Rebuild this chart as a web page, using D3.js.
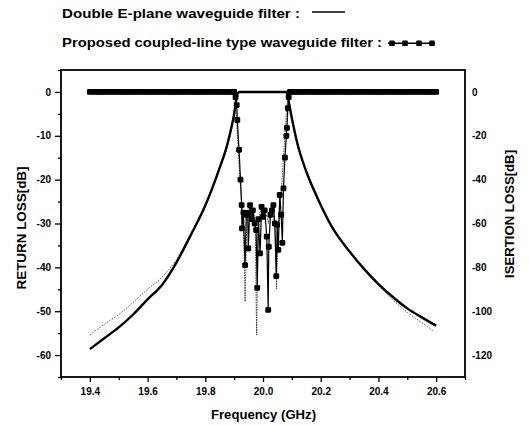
<!DOCTYPE html>
<html>
<head>
<meta charset="utf-8">
<script src="https://cdnjs.cloudflare.com/ajax/libs/d3/7.8.5/d3.min.js"></script>
<style>
  html, body { margin: 0; padding: 0; background: #fff; }
  svg { display: block; font-family: Arial, "Liberation Sans", Helvetica, sans-serif; }
</style>
</head>
<body>
<svg id="chart" width="529" height="425"></svg>
<script>
// ---------- data ----------
const xTicks = [19.4, 19.6, 19.8, 20.0, 20.2, 20.4, 20.6];
const xTickLabels = ["19.4", "19.6", "19.8", "20.0", "20.2", "20.4", "20.6"];
const leftTicks = [0, -10, -20, -30, -40, -50, -60];
const leftTickLabels = ["0", "-10", "-20", "-30", "-40", "-50", "-60"];
const rightTicks = [0, -20, -40, -60, -80, -100, -120];
const rightTickLabels = ["0", "-20", "-40", "-60", "-80", "-100", "-120"];

// Proposed filter, return loss (left axis) — square markers
const propS11Freq = [
  19.40,19.41,19.42,19.43,19.44,19.45,19.46,19.47,19.48,19.49,
  19.50,19.51,19.52,19.53,19.54,19.55,19.56,19.57,19.58,19.59,
  19.60,19.61,19.62,19.63,19.64,19.65,19.66,19.67,19.68,19.69,
  19.70,19.71,19.72,19.73,19.74,19.75,19.76,19.77,19.78,19.79,
  19.80,19.81,19.82,19.83,19.84,19.85,19.86,19.87,19.88,19.89,
  19.900,19.905,19.909,19.911,19.917,19.922,19.926,19.927,19.932,19.938,
  19.942,19.947,19.949,19.955,19.960,19.965,19.971,19.976,19.980,19.984,
  19.990,19.995,20.000,20.006,20.013,20.018,20.020,20.026,20.031,20.036,
  20.041,20.046,20.049,20.053,20.058,20.063,20.067,20.071,20.076,20.081,
  20.083,20.086,20.089,20.093,
  20.10,20.11,20.12,20.13,20.14,20.15,20.16,20.17,20.18,20.19,
  20.20,20.21,20.22,20.23,20.24,20.25,20.26,20.27,20.28,20.29,
  20.30,20.31,20.32,20.33,20.34,20.35,20.36,20.37,20.38,20.39,
  20.40,20.41,20.42,20.43,20.44,20.45,20.46,20.47,20.48,20.49,
  20.50,20.51,20.52,20.53,20.54,20.55,20.56,20.57,20.58,20.59,20.60
];
const propS11Val = [
  0,0,0,0,0,0,0,0,0,0,
  0,0,0,0,0,0,0,0,0,0,
  0,0,0,0,0,0,0,0,0,0,
  0,0,0,0,0,0,0,0,0,0,
  0,0,0,0,0,0,0,0,0,0,
  0,-1.2,-3.0,-6.4,-13.2,-20.0,-25.8,-31.1,-27.5,-39.5,
  -28.0,-27.6,-35.7,-25.8,-29.0,-27.0,-30.0,-31.5,-44.7,-29.0,
  -36.8,-26.2,-28.5,-27.0,-33.0,-49.7,-35.3,-28.0,-27.0,-25.8,
  -30.0,-42.0,-30.3,-36.0,-23.5,-28.0,-34.4,-22.0,-15.0,-10.0,
  -8.2,-3.7,-1.2,0,
  0,0,0,0,0,0,0,0,0,0,
  0,0,0,0,0,0,0,0,0,0,
  0,0,0,0,0,0,0,0,0,0,
  0,0,0,0,0,0,0,0,0,0,
  0,0,0,0,0,0,0,0,0,0,0
];

// Double E-plane filter, return loss (left axis) — thin line
const dblS11Freq = [19.40,19.900,19.905,19.910,19.915,19.920,19.926,19.932,19.938,19.944,19.950,
  19.956,19.962,19.968,19.973,19.978,19.983,19.989,19.995,20.001,20.007,20.013,20.019,
  20.025,20.031,20.037,20.042,20.047,20.052,20.058,20.064,20.070,20.076,20.081,20.086,20.090,20.60];
const dblS11Val = [0,0,-3,-8,-14,-20,-25,-30,-47.8,-29,-26,
  -27,-28.5,-27,-31,-55.4,-32,-27.5,-26.5,-28,-29,-28,-30,
  -27.5,-27,-28.5,-32,-44.9,-31,-26,-22,-16,-10,-5,-1.5,0,0];

// Proposed filter, insertion loss (right axis) — thick solid
const propS21Freq = [19.40,19.45,19.50,19.55,19.60,19.65,19.70,19.75,19.80,19.85,19.875,19.89,19.90,19.905,19.909,19.913,19.92,
  20.08,20.085,20.088,20.099,20.12,20.15,20.19,20.24,20.30,20.35,20.40,20.45,20.50,20.55,20.60];
const propS21Val = [-117.3,-112.3,-107.4,-101.5,-94.6,-88.0,-77.8,-65.2,-51.8,-34.5,-24.6,-16.5,-10.0,-5.5,-2.2,-0.5,0,
  0,-1.5,-3.6,-11.3,-24.0,-36.3,-48.7,-61.8,-72.8,-80.7,-87.6,-93.5,-98.7,-102.8,-106.6];

// Double E-plane filter, insertion loss (right axis) — thin dotted
const dblS21Freq = [19.40,19.45,19.50,19.55,19.60,19.65,19.70,19.75,19.80,19.85,19.875,19.89,19.90,19.91,19.915,19.92,
  20.08,20.085,20.09,20.10,20.12,20.15,20.19,20.24,20.30,20.35,20.40,20.45,20.50,20.55,20.59];
const dblS21Val = [-110.8,-106.0,-101.5,-96.0,-90.0,-84.4,-76.5,-64.5,-51.5,-35.0,-25.5,-18.0,-11.0,-3.0,-0.5,0,
  0,-1.5,-4.5,-12.0,-24.5,-36.5,-49.0,-62.0,-73.0,-81.0,-88.2,-94.8,-100.5,-105.2,-108.9];

const legend1 = "Double E-plane waveguide filter :";
const legend2 = "Proposed coupled-line type waveguide filter :";
const xTitle = "Frequency (GHz)";
const yLeftTitle = "RETURN LOSS[dB]";
const yRightTitle = "ISERTION LOSS[dB]";

// ---------- layout ----------
const L = 61, R = 465, T = 70, B = 377;
const svg = d3.select("#chart");

const x = d3.scaleLinear().domain([19.3, 20.7]).range([L, R]);
const yL = d3.scaleLinear().domain([-65, 5]).range([B, T]);
const yR = d3.scaleLinear().domain([-130, 10]).range([B, T]);

const zip = (f, v) => f.map((d, i) => ({ f: d, v: v[i] }));

// ---------- data marks ----------
const lineL = d3.line().x(d => x(d.f)).y(d => yL(d.v));
const lineR = d3.line().x(d => x(d.f)).y(d => yR(d.v)).curve(d3.curveMonotoneX);

svg.append("path").datum(zip(dblS21Freq, dblS21Val))
  .attr("d", lineR).attr("fill", "none").attr("stroke", "#444")
  .attr("stroke-width", 0.9).attr("stroke-dasharray", "1.5,1.5");

svg.append("path").datum(zip(propS21Freq, propS21Val))
  .attr("d", lineR).attr("fill", "none").attr("stroke", "#000")
  .attr("stroke-width", 2.4).attr("stroke-linejoin", "round");

svg.append("path").datum(zip(dblS11Freq, dblS11Val))
  .attr("d", lineL).attr("fill", "none").attr("stroke", "#333")
  .attr("stroke-width", 0.9).attr("stroke-dasharray", "1.5,1");

const propS11 = zip(propS11Freq, propS11Val);
svg.append("path").datum(propS11)
  .attr("d", lineL).attr("fill", "none").attr("stroke", "#000")
  .attr("stroke-width", 1.2);

const ms = 5.8;
svg.append("g").selectAll("rect").data(propS11).join("rect")
  .attr("x", d => x(d.f) - ms / 2).attr("y", d => yL(d.v) - ms / 2)
  .attr("width", ms).attr("height", ms).attr("rx", 1.4).attr("fill", "#000");

// ---------- axes ----------
const axisStyle = g => {
  g.selectAll(".domain").remove();
  g.selectAll("line").attr("stroke", "#000").attr("stroke-width", 1.3);
  g.selectAll("text").attr("fill", "#000").attr("font-size", "10px").attr("font-weight", "bold");
};

// minor ticks
svg.append("g").attr("transform", `translate(0,${B})`)
  .call(d3.axisBottom(x).tickValues([19.3,19.5,19.7,19.9,20.1,20.3,20.5,20.7]).tickSize(3).tickFormat(""))
  .call(axisStyle);
svg.append("g").attr("transform", `translate(${L},0)`)
  .call(d3.axisLeft(yL).tickValues([5,-5,-15,-25,-35,-45,-55,-65]).tickSize(3).tickFormat(""))
  .call(axisStyle);

// major ticks
svg.append("g").attr("transform", `translate(0,${B})`)
  .call(d3.axisBottom(x).tickValues(xTicks).tickSize(5).tickPadding(6)
    .tickFormat((d, i) => xTickLabels[i]))
  .call(axisStyle);
svg.append("g").attr("transform", `translate(${L},0)`)
  .call(d3.axisLeft(yL).tickValues(leftTicks).tickSize(6).tickPadding(4)
    .tickFormat((d, i) => leftTickLabels[i]))
  .call(axisStyle);
svg.append("g").attr("transform", `translate(${R},0)`)
  .call(d3.axisRight(yR).tickValues(rightTicks).tickSize(0).tickPadding(7)
    .tickFormat((d, i) => rightTickLabels[i]))
  .call(axisStyle);

// frame
svg.append("rect").attr("x", L).attr("y", T).attr("width", R - L).attr("height", B - T)
  .attr("fill", "none").attr("stroke", "#000").attr("stroke-width", 1.8);

// ---------- titles ----------
svg.append("text").attr("x", (L + R) / 2 + 0.5).attr("y", 419)
  .attr("text-anchor", "middle").attr("font-size", "12.5px").attr("font-weight", "bold")
  .attr("textLength", 105).attr("lengthAdjust", "spacingAndGlyphs").text(xTitle);

svg.append("text").attr("transform", "translate(25.5,228) rotate(-90)")
  .attr("text-anchor", "middle").attr("font-size", "12px").attr("font-weight", "bold")
  .attr("textLength", 123).attr("lengthAdjust", "spacingAndGlyphs").text(yLeftTitle);

svg.append("text").attr("transform", "translate(513.5,214) rotate(-90)")
  .attr("text-anchor", "middle").attr("font-size", "12px").attr("font-weight", "bold")
  .attr("textLength", 128).attr("lengthAdjust", "spacingAndGlyphs").text(yRightTitle);

// ---------- legend ----------
svg.append("text").attr("x", 62).attr("y", 18.3).attr("font-size", "13px").attr("font-weight", "bold")
  .attr("textLength", 238).attr("lengthAdjust", "spacingAndGlyphs").text(legend1);
svg.append("line").attr("x1", 312).attr("x2", 345).attr("y1", 12).attr("y2", 12)
  .attr("stroke", "#000").attr("stroke-width", 1.5);

svg.append("text").attr("x", 62).attr("y", 47).attr("font-size", "13px").attr("font-weight", "bold")
  .attr("textLength", 320).attr("lengthAdjust", "spacingAndGlyphs").text(legend2);
svg.append("line").attr("x1", 388).attr("x2", 435).attr("y1", 43.3).attr("y2", 43.3)
  .attr("stroke", "#000").attr("stroke-width", 1.5);
svg.append("g").selectAll("rect").data([392, 405, 419, 432]).join("rect")
  .attr("x", d => d - 2.8).attr("y", 43.3 - 2.8).attr("width", 5.6).attr("height", 5.6)
  .attr("rx", 1.2).attr("fill", "#000");
</script>
</body>
</html>
